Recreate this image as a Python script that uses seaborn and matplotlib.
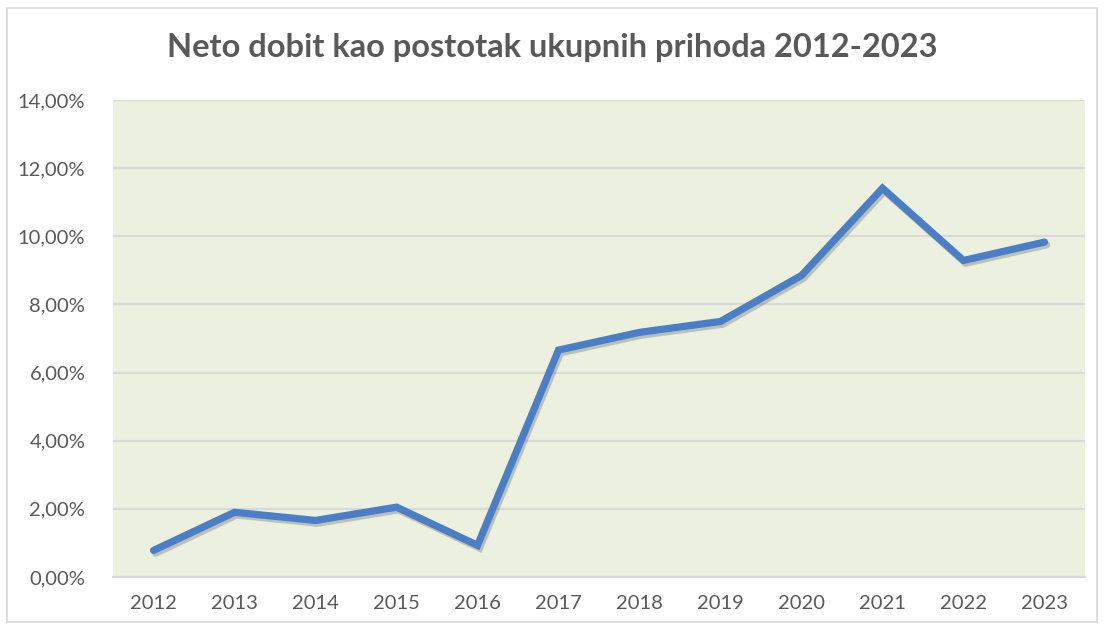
import matplotlib
matplotlib.use('Agg')
import matplotlib.pyplot as plt
import matplotlib.patheffects as pe
import matplotlib.ticker as mticker
import seaborn as sns
import pandas as pd

# data
years = ['2012', '2013', '2014', '2015', '2016', '2017', '2018', '2019', '2020', '2021', '2022', '2023']
net_margin = [0.78, 1.90, 1.66, 2.05, 0.93, 6.66, 7.18, 7.50, 8.85, 11.41, 9.29, 9.83]

df = pd.DataFrame({'Godina': years, 'Marza': net_margin})

sns.set_style('white')
plt.rcParams['font.family'] = ['Lato', 'DejaVu Sans']

fig = plt.figure(figsize=(11.04, 6.28), dpi=100)
ax = fig.add_axes([0.1024, 0.0812, 0.8804, 0.7596])
ax.set_facecolor('#EBF1DE')

sns.lineplot(data=df, x='Godina', y='Marza', ax=ax, color='#4A7EC6', linewidth=5.2,
             solid_capstyle='round', solid_joinstyle='miter',
             path_effects=[pe.SimpleLineShadow(offset=(1.5, -2), shadow_color='#555555', alpha=0.3),
                           pe.Normal()])

ax.set_ylim(0, 14)
ax.set_xlim(-0.5, 11.5)
ax.set_yticks(range(0, 15, 2))
ax.yaxis.set_major_formatter(mticker.FuncFormatter(lambda v, p: f'{v:.2f}%'.replace('.', ',')))
ax.grid(axis='y', color='#D9D9D9', linewidth=1.5)
ax.set_axisbelow(True)
for s in ['left', 'right', 'top']:
    ax.spines[s].set_visible(False)
ax.spines['bottom'].set_color('#D9D9D9')
ax.spines['bottom'].set_linewidth(1.5)
ax.tick_params(axis='both', length=0, labelsize=14.5, labelcolor='#595959')
ax.tick_params(axis='x', pad=13)
ax.tick_params(axis='y', pad=20)
ax.set_xlabel('')
ax.set_ylabel('')

fig.text(0.5, 0.925, 'Neto dobit kao postotak ukupnih prihoda 2012-2023', ha='center', va='center',
         fontsize=23.5, fontweight='bold', color='#595959')

# outer chart frame
fig.patches.append(plt.Rectangle((0.006, 0.01), 0.988, 0.978, transform=fig.transFigure,
                                 fill=False, edgecolor='#D9D9D9', linewidth=1.2))

fig.savefig('out.png', dpi=100)
